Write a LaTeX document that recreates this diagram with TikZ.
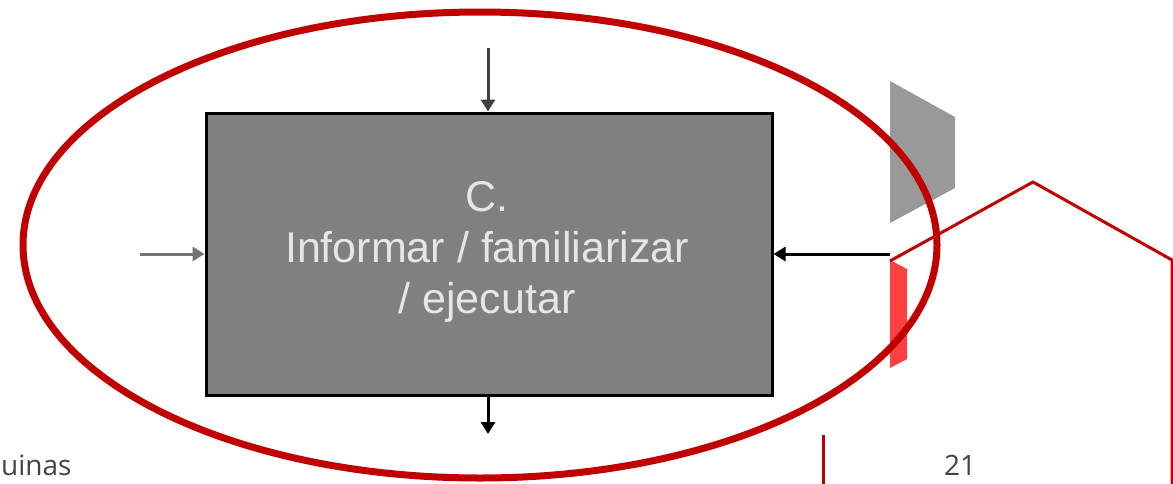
\documentclass[tikz,border=0pt]{standalone}
\usepackage{fontspec}
\setmainfont{Liberation Sans}
\newfontfamily\pagefont{Open Sans}
\usetikzlibrary{arrows.meta}
\definecolor{boxgray}{HTML}{808080}
\definecolor{txtgray}{HTML}{E6E6E6}
\definecolor{ringred}{HTML}{C00000}
\definecolor{barred}{HTML}{FF4040}
\definecolor{trapgray}{HTML}{999999}
\definecolor{pagegray}{HTML}{444444}
\tikzset{
  procbox/.style={draw=black, line width=3pt, fill=boxgray, minimum width=566pt, minimum height=282pt, inner sep=0pt},
  flow/.style={line width=3pt, -{Triangle[width=14pt,length=12pt]}},
  ring/.style={draw=ringred, line width=7pt},
  outline/.style={draw=ringred, line width=3pt},
  pagetext/.style={text=pagegray, font=\pagefont\fontsize{28}{32}\selectfont, inner sep=0pt}
}
\begin{document}
\begin{tikzpicture}[x=1pt,y=-1pt]
\useasboundingbox (0,0) rectangle (1173,483);
\clip (0,0) rectangle (1173,483);
\fill[white] (0,0) rectangle (1173,483);
% main box
\node[procbox] (box) at (489,254) {};
\node[text=txtgray, align=center, font=\fontsize{43}{51}\selectfont, inner sep=0pt] (lbl) at (487,252) {C.\\Informar / familiarizar\\/ ejecutar};
% arrows
\coordinate (topin) at (488,48);
\coordinate (leftin) at (140,254);
\coordinate (rightin) at (890,254);
\coordinate (botout) at (488,434);
\draw[flow, draw=black!75] (topin) -- (box.north -| topin);
\draw[flow, draw=black!55] (leftin) -- (box.west |- leftin);
\draw[flow, draw=black] (rightin) -- (box.east |- rightin);
\draw[flow, draw=black] (box.south -| botout) -- (botout);
% gray trapezoid
\fill[trapgray] (890,81) -- (955,117) -- (955,188) -- (890,223) -- cycle;
% red bar
\fill[barred] (890,260) -- (907,269) -- (907,359) -- (890,368) -- cycle;
% hexagon outline
\draw[outline, line join=miter] (890,261) -- (1033,182) -- (1172,260) -- (1172,490);
\draw[outline] (823,435) -- (823,490);
% ellipse
\draw[ring] (480,245) ellipse [x radius=457, y radius=233];
% page texts
\node[pagetext, anchor=base west] (foot) at (1,475) {uinas};
\node[pagetext, anchor=base west] (pagenum) at (944,475) {21};
\end{tikzpicture}
\end{document}
